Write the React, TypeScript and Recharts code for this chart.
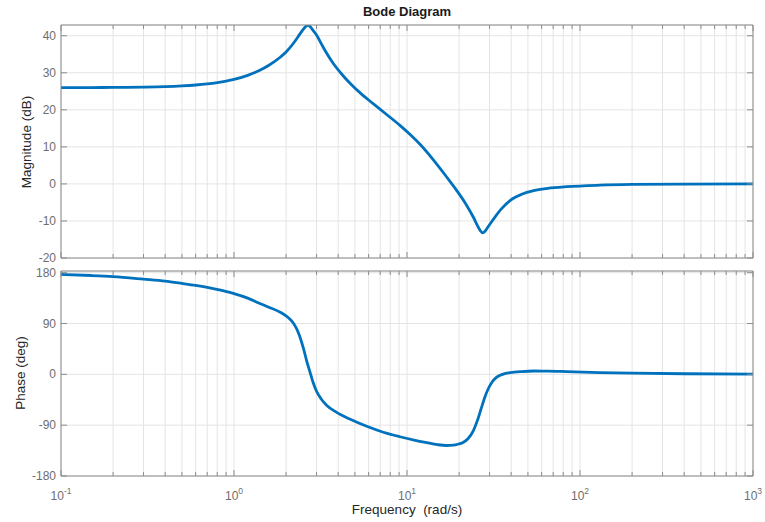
import React from 'react';
import { LineChart, Line, XAxis, YAxis, CartesianGrid } from 'recharts';

// frequency samples (rad/s) and values
const magFreq = [0.1, 0.15, 0.2, 0.3, 0.4, 0.5, 0.6, 0.7, 0.8, 0.9, 1.0, 1.2, 1.4, 1.6, 1.85, 2.0, 2.2, 2.35, 2.5, 2.6, 2.67, 2.75, 2.85, 3.0, 3.2, 3.4, 3.75, 4.2, 4.7, 5.5, 6.4, 7.5, 9.1, 10.5, 12, 14.2, 17, 19.4, 22, 24.2, 25.5, 26.5, 27.4, 28.2, 29.3, 31.5, 35, 39.4, 46, 54, 65, 84, 130, 200, 400, 1000];
const magDb = [26.0, 26.02, 26.05, 26.12, 26.25, 26.45, 26.7, 27.0, 27.35, 27.75, 28.2, 29.3, 30.6, 32.1, 34.2, 35.6, 37.9, 39.8, 41.6, 42.5, 42.9, 42.5, 41.6, 40.2, 37.8, 35.6, 32.5, 29.6, 27.1, 24.1, 21.6, 19.0, 15.8, 13.2, 10.5, 6.5, 1.8, -1.8, -5.6, -9.0, -11.2, -12.6, -13.2, -12.8, -11.7, -9.6, -6.8, -4.5, -2.8, -1.8, -1.2, -0.75, -0.35, -0.15, -0.04, 0];

const phaseFreq = [0.1, 0.15, 0.2, 0.3, 0.4, 0.5, 0.6, 0.7, 0.85, 1.0, 1.2, 1.4, 1.6, 1.85, 2.0, 2.1, 2.2, 2.3, 2.4, 2.52, 2.63, 2.75, 2.87, 3.0, 3.2, 3.44, 3.9, 4.7, 5.8, 7.3, 9.1, 11, 13, 15, 16.9, 18.5, 20, 21.1, 22.5, 24.2, 25.5, 27, 28.2, 29.5, 31, 33, 36, 39.4, 46, 54, 65, 84, 130, 200, 400, 1000];
const phaseDeg = [177, 175, 173, 168.5, 165, 161, 157.5, 154, 148.5, 143, 135, 126, 118.5, 110, 103.5, 98, 91, 81, 67, 46, 24, 4, -15, -30, -44, -55, -67, -79.5, -91.5, -102.5, -110.5, -116.5, -121, -124.5, -126, -125.5, -123, -120.5, -114, -99.5, -82, -58, -40, -25.5, -14, -5, 0.5, 3, 5, 5.9, 5.7, 4.8, 3.2, 2.2, 1.1, 0.5];

const xTicks = [
  0.1, 0.2, 0.3, 0.4, 0.5, 0.6, 0.7, 0.8, 0.9,
  1, 2, 3, 4, 5, 6, 7, 8, 9,
  10, 20, 30, 40, 50, 60, 70, 80, 90,
  100, 200, 300, 400, 500, 600, 700, 800, 900,
  1000,
];
const decades = [0.1, 1, 10, 100, 1000];
const decadeExps = ['-1', '0', '1', '2', '3'];
const magTicks = [-20, -10, 0, 10, 20, 30, 40];
const phaseTicks = [-180, -90, 0, 90, 180];

const W = 765;
const LEFT = 61;
const RIGHT = 753;
const AXIS = '#8c8c8c';
const LABEL = '#6e6e6e';
const FONT = '"Liberation Sans", Arial, Helvetica, sans-serif';
const BLUE = '#0072BD';

const magData = magFreq.map((f, i) => ({ f, v: magDb[i] }));
const phaseData = phaseFreq.map((f, i) => ({ f, v: phaseDeg[i] }));

function xTick(edge: number, dir: number, labels: boolean) {
  return (props: any) => {
    const { x, payload } = props;
    const k = decades.indexOf(payload.value);
    const len = k >= 0 ? 6 : 4;
    return (
      <g>
        <line x1={x} x2={x} y1={edge} y2={edge + dir * len} stroke={AXIS} strokeWidth={1} />
        {labels && k >= 0 && (
          <text x={x} y={edge + 24} textAnchor="middle" fill={LABEL} fontSize={12} fontFamily={FONT}>
            10<tspan dy={-6} fontSize={8.5}>{decadeExps[k]}</tspan>
          </text>
        )}
      </g>
    );
  };
}

function yTick(edge: number, dir: number, labels: boolean) {
  return (props: any) => {
    const { y, payload } = props;
    return (
      <g>
        <line x1={edge} x2={edge + dir * 6} y1={y} y2={y} stroke={AXIS} strokeWidth={1} />
        {labels && (
          <text x={edge - 5} y={y + 4} textAnchor="end" fill={LABEL} fontSize={12} fontFamily={FONT}>
            {payload.value}
          </text>
        )}
      </g>
    );
  };
}

interface PanelProps {
  data: { f: number; v: number }[];
  height: number;
  top: number;
  bottom: number;
  domain: [number, number];
  yTicks: number[];
  xLabels: boolean;
}

// axes are 1px thick so they still render; margins leave the plot box where the reference has it
function Panel({ data, height, top, bottom, domain, yTicks, xLabels }: PanelProps) {
  const plotBottom = height - bottom;
  return (
    <LineChart width={W} height={height} data={data}
      margin={{ top: top - 1, right: W - RIGHT - 1, bottom: bottom - 1, left: LEFT - 1 }}>
      <CartesianGrid xAxisId="b" yAxisId="l" stroke="#e4e4e4" strokeWidth={1} />
      <XAxis xAxisId="b" dataKey="f" type="number" scale="log" domain={[0.1, 1000]} ticks={xTicks}
        allowDataOverflow interval={0} height={1} orientation="bottom"
        axisLine={{ stroke: AXIS }} tickLine={false} tick={xTick(plotBottom, -1, xLabels)} />
      <XAxis xAxisId="t" dataKey="f" type="number" scale="log" domain={[0.1, 1000]} ticks={xTicks}
        allowDataOverflow interval={0} height={1} orientation="top"
        axisLine={{ stroke: AXIS }} tickLine={false} tick={xTick(top, 1, false)} />
      <YAxis yAxisId="l" type="number" domain={domain} ticks={yTicks} allowDataOverflow interval={0}
        width={1} orientation="left" axisLine={{ stroke: AXIS }} tickLine={false} tick={yTick(LEFT, 1, true)} />
      <YAxis yAxisId="r" type="number" domain={domain} ticks={yTicks} allowDataOverflow interval={0}
        width={1} orientation="right" axisLine={{ stroke: AXIS }} tickLine={false} tick={yTick(RIGHT, -1, false)} />
      <Line xAxisId="b" yAxisId="l" type="monotone" dataKey="v" stroke={BLUE} strokeWidth={2.8}
        dot={false} isAnimationActive={false} />
    </LineChart>
  );
}

export default function App() {
  return (
    <div style={{ position: 'absolute', left: 0, top: 0, width: W, height: 522, background: '#fff', fontFamily: FONT }}>
      <div style={{ position: 'absolute', left: 0, top: 0 }}>
        <Panel data={magData} height={270} top={25} bottom={12} domain={[-20, 42.9]} yTicks={magTicks} xLabels={false} />
      </div>
      <div style={{ position: 'absolute', left: 0, top: 258 }}>
        <Panel data={phaseData} height={264} top={13} bottom={46} domain={[-180, 183]} yTicks={phaseTicks} xLabels={true} />
      </div>
      <svg width={W} height={522} style={{ position: 'absolute', left: 0, top: 0, pointerEvents: 'none' }}>
        <text x={407} y={16} textAnchor="middle" fontSize={13} fontWeight="bold" fill="#1a1a1a" fontFamily={FONT}>
          Bode Diagram
        </text>
        <text x={407} y={514} textAnchor="middle" fontSize={13.5} fill="#262626" fontFamily={FONT} xmlSpace="preserve">
          Frequency  (rad/s)
        </text>
        <text transform="translate(31,142) rotate(-90)" textAnchor="middle" fontSize={13.5} fill="#262626" fontFamily={FONT}>
          Magnitude (dB)
        </text>
        <text transform="translate(25,373) rotate(-90)" textAnchor="middle" fontSize={13.5} fill="#262626" fontFamily={FONT}>
          Phase (deg)
        </text>
      </svg>
    </div>
  );
}
